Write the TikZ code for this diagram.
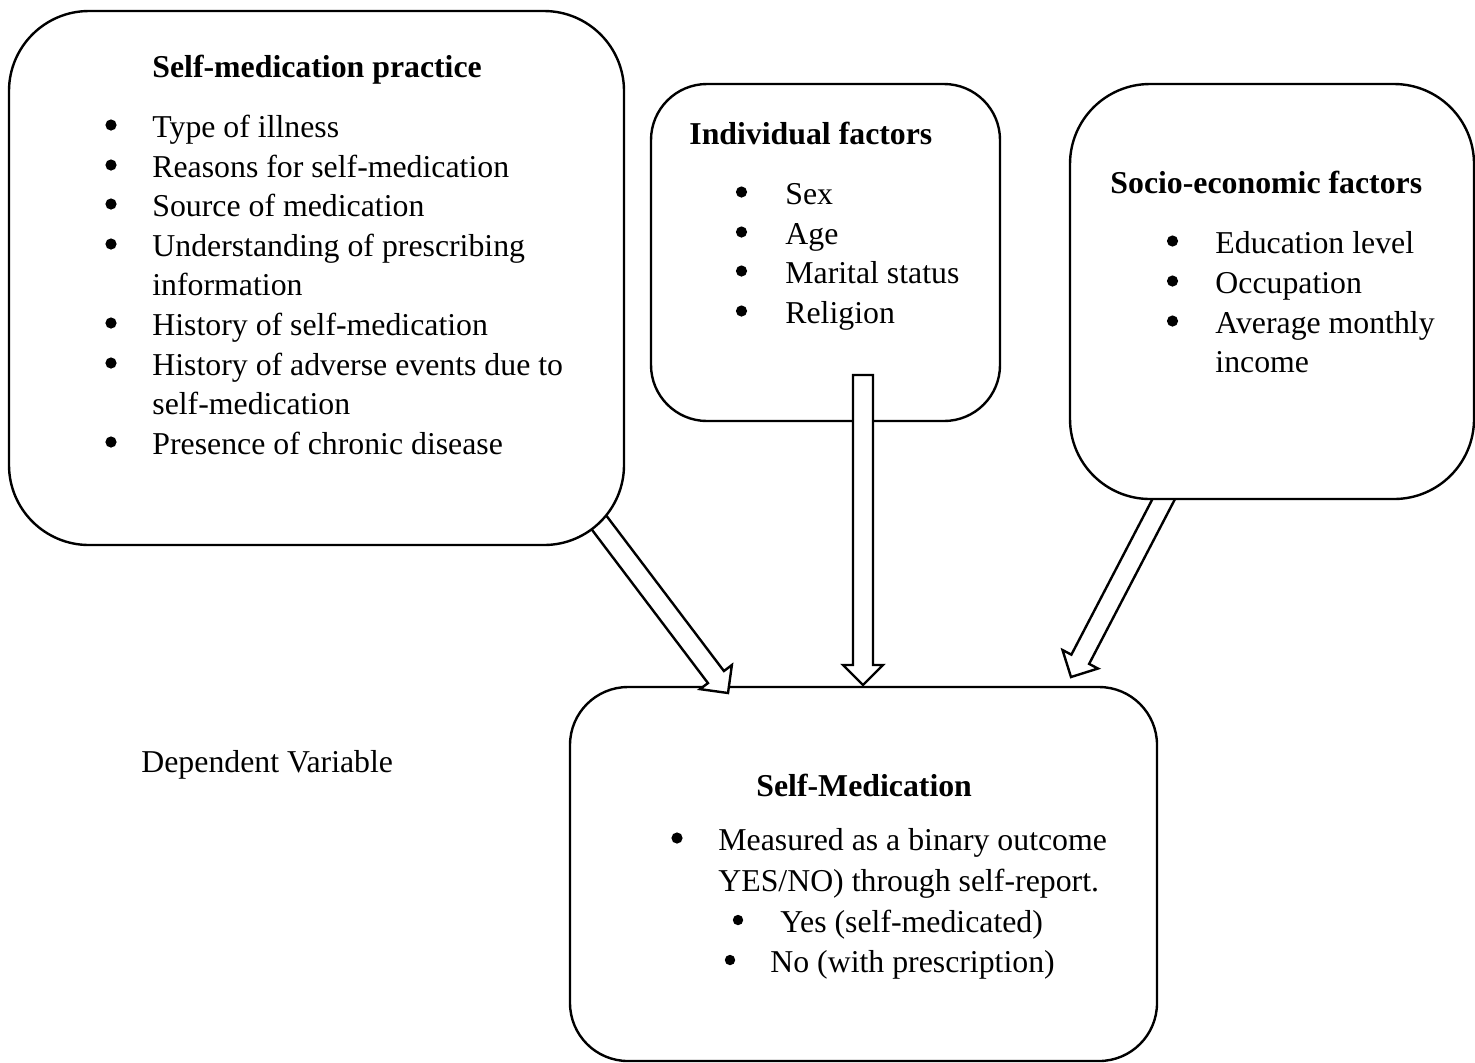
\documentclass[tikz,border=0pt]{standalone}
\usepackage{fontspec}
\setmainfont{Liberation Serif}
\usetikzlibrary{calc}
\tikzset{
  box/.style={draw=black, line width=1.2pt, fill=white, rounded corners=#1, inner sep=0pt, outer sep=0pt},
  txt/.style={anchor=base west, inner sep=0pt, font=\fontsize{15.9}{19}\selectfont},
  hd/.style={txt, font=\fontsize{15.9}{19}\selectfont\bfseries},
  dot/.style={circle, fill=black, inner sep=0pt, minimum size=#1},
  dot/.default=5.6pt,
  barrow/.style={draw=black, fill=white, line width=1.2pt, line join=miter},
}
\newcommand\blockarrow[2]{%
  \coordinate (ba-h) at ($(#2)!10pt!(#1)$);
  \path[barrow] ($(#1)!5pt!90:(#2)$) -- ($(ba-h)!5pt!-90:(#1)$) -- ($(ba-h)!10pt!-90:(#1)$)
    -- (#2) -- ($(ba-h)!10pt!90:(#1)$) -- ($(ba-h)!5pt!90:(#1)$) -- ($(#1)!5pt!-90:(#2)$) -- cycle;
}
\begin{document}
\begin{tikzpicture}[x=0.5pt, y=-0.5pt]
\useasboundingbox (0,0) rectangle (1475,1062);
% outcome box
\node[box=29pt, minimum width=293.5pt, minimum height=187pt] (out) at (863.5,874) {};
% arrows 1 and 3 (their start hidden under the source boxes)
\coordinate (a1s) at (585,504);
\coordinate (a1e) at (728,693);
\coordinate (a3s) at (1170,487);
\coordinate (a3e) at (1071,677);
\blockarrow{a1s}{a1e}
\blockarrow{a3s}{a3e}
% source boxes
\node[box=40pt, minimum width=307.5pt, minimum height=267pt] (prac) at (316.5,278) {};
\node[box=40pt, minimum width=202pt, minimum height=207.5pt] (socio) at (1272,291.5) {};
\node[box=28pt, minimum width=174.5pt, minimum height=168.5pt] (indiv) at (825.5,252.5) {};
% arrow 2 starts inside the individual box
\coordinate (a2s) at (863,375);
\coordinate (a2e) at (863,685);
\blockarrow{a2s}{a2e}

% Self-medication practice
\node[hd] (h1) at (152,77) {Self-medication practice};
\foreach \y/\t [count=\i] in {137/Type of illness, 177/Reasons for self-medication, 216/Source of medication, 256/Understanding of prescribing, 335/History of self-medication, 375/History of adverse events due to, 454/Presence of chronic disease}{
  \node[dot] (p\i b) at (111,\y-12) {};
  \node[txt] (p\i) at (152,\y) {\t};
}
\node[txt] (p4c) at (152,295) {information};
\node[txt] (p6c) at (152,414) {self-medication};

% Individual factors
\node[hd] (h2) at (689,144) {Individual factors};
\foreach \y/\t [count=\i] in {204/Sex, 244/Age, 283/Marital status, 323/Religion}{
  \node[dot] (i\i b) at (741.5,\y-12) {};
  \node[txt] (i\i) at (785,\y) {\t};
}

% Socio-economic factors
\node[hd] (h3) at (1110,193) {Socio-economic factors};
\foreach \y/\t [count=\i] in {253/Education level, 293/Occupation, 333/Average monthly}{
  \node[dot] (s\i b) at (1172.5,\y-12) {};
  \node[txt] (s\i) at (1215,\y) {\t};
}
\node[txt] (s3c) at (1215,372) {income};

% Dependent variable
\node[txt] (dv) at (141,772) {Dependent Variable};
\node[hd] (h4) at (756,796) {Self-Medication};
\node[dot] (o1b) at (677,838) {};
\node[txt] (o1) at (718,850) {Measured as a binary outcome};
\node[txt] (o1c) at (718,891) {YES/NO) through self-report.};
\node[dot=5.2pt] (o2b) at (738,920) {};
\node[txt] (o2) at (780,932) {Yes (self-medicated)};
\node[dot=5.2pt] (o3b) at (730,960) {};
\node[txt] (o3) at (770,972) {No (with prescription)};
\end{tikzpicture}
\end{document}
